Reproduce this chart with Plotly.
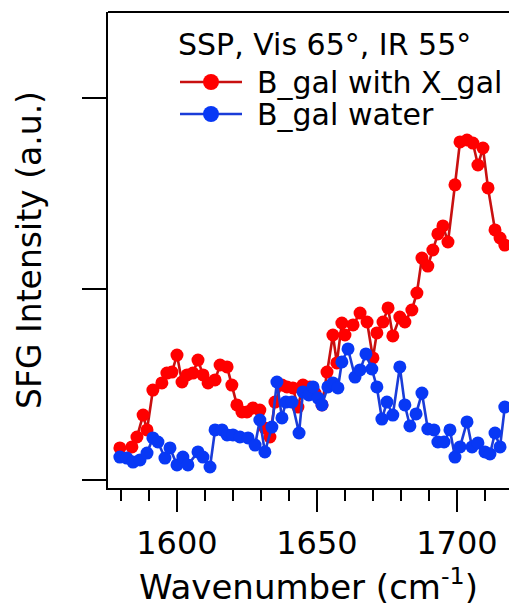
import plotly.graph_objects as go

# Wavenumber (cm^-1) and SFG intensity (a.u.)
red_x = [1579.6, 1583.9, 1585.7, 1587.9, 1589.3, 1591.4, 1594.6, 1596.4, 1598.2, 1600.0,
         1601.8, 1603.6, 1605.7, 1607.5, 1609.3, 1611.1, 1613.6, 1615.4, 1617.9, 1619.6,
         1621.4, 1623.2, 1625.0, 1627.1, 1629.6, 1631.4, 1633.2, 1635.0, 1637.5, 1639.3,
         1641.4, 1643.2, 1645.0, 1647.5, 1649.3, 1651.8, 1653.6, 1655.7, 1657.1, 1658.9,
         1660.0, 1662.9, 1665.4, 1667.9, 1670.0, 1671.4, 1673.6, 1675.4, 1677.1, 1679.6,
         1681.4, 1683.9, 1685.7, 1687.5, 1689.6, 1691.4, 1693.2, 1695.0, 1696.8, 1699.3,
         1701.1, 1703.6, 1705.7, 1707.5, 1709.3, 1711.1, 1713.6, 1715.4, 1717.1]
red_y = [0.168, 0.173, 0.225, 0.340, 0.262, 0.471, 0.508, 0.560, 0.565, 0.654,
         0.513, 0.550, 0.560, 0.628, 0.550, 0.508, 0.524, 0.602, 0.592, 0.497,
         0.393, 0.356, 0.356, 0.377, 0.366, 0.272, 0.225, 0.408, 0.497, 0.487,
         0.482, 0.382, 0.497, 0.487, 0.455, 0.393, 0.565, 0.759, 0.613, 0.822,
         0.759, 0.812, 0.874, 0.827, 0.639, 0.770, 0.827, 0.901, 0.754, 0.853,
         0.827, 0.890, 0.979, 1.162, 1.120, 1.204, 1.288, 1.330, 1.246, 1.545,
         1.770, 1.780, 1.764, 1.649, 1.738, 1.529, 1.309, 1.267, 1.230]

blue_x = [1579.6, 1582.1, 1584.3, 1586.8, 1589.3, 1591.4, 1593.2, 1595.7, 1597.5, 1600.0,
          1602.1, 1603.9, 1607.5, 1609.3, 1611.8, 1613.6, 1616.1, 1617.9, 1620.0, 1622.5,
          1625.4, 1627.9, 1629.6, 1631.4, 1633.9, 1635.7, 1637.5, 1638.9, 1641.1, 1643.6,
          1645.0, 1647.1, 1648.6, 1650.4, 1651.8, 1653.9, 1655.7, 1657.5, 1658.9, 1661.1,
          1663.6, 1665.4, 1667.5, 1669.6, 1671.4, 1673.2, 1675.0, 1677.1, 1679.6, 1681.4,
          1683.2, 1685.4, 1687.5, 1689.6, 1691.8, 1693.2, 1695.4, 1697.5, 1699.3, 1701.1,
          1703.6, 1705.4, 1707.5, 1710.0, 1711.8, 1713.6, 1715.4, 1717.1]
blue_y = [0.120, 0.115, 0.094, 0.105, 0.141, 0.220, 0.199, 0.115, 0.168, 0.079,
          0.120, 0.079, 0.147, 0.120, 0.068, 0.262, 0.262, 0.236, 0.236, 0.225,
          0.220, 0.183, 0.314, 0.147, 0.277, 0.513, 0.325, 0.408, 0.408, 0.246,
          0.461, 0.445, 0.487, 0.429, 0.393, 0.487, 0.508, 0.482, 0.618, 0.686,
          0.539, 0.576, 0.660, 0.581, 0.487, 0.319, 0.408, 0.340, 0.592, 0.393,
          0.283, 0.346, 0.455, 0.267, 0.262, 0.199, 0.199, 0.262, 0.120, 0.173,
          0.304, 0.173, 0.194, 0.147, 0.136, 0.246, 0.173, 0.382]

series_names = ["B_gal with X_gal", "B_gal water"]
legend_title = "SSP, Vis 65°, IR 55°"
x_ticks = [1600, 1650, 1700]
y_ticks = [0, 1, 2]

FONT = "DejaVu Sans, Arial, sans-serif"
RED_M, RED_L = "#ff0000", "#c81010"
BLUE_M, BLUE_L = "#0838f5", "#1a3cd8"

W, H = 509, 607
ML, MR, MT, MB = 108, 0, 12, 119
PW, PH = W - ML - MR, H - MT - MB


def px2paper(px, py):
    return (px - ML) / PW, (H - MB - py) / PH


fig = go.Figure()
fig.add_trace(go.Scatter(
    x=red_x, y=red_y, mode="lines+markers", name=series_names[0],
    line=dict(color=RED_L, width=2.6),
    marker=dict(color=RED_M, size=13, line=dict(width=0)),
    showlegend=False,
))
fig.add_trace(go.Scatter(
    x=blue_x, y=blue_y, mode="lines+markers", name=series_names[1],
    line=dict(color=BLUE_L, width=2.6),
    marker=dict(color=BLUE_M, size=13, line=dict(width=0)),
    showlegend=False,
))

fig.update_layout(
    width=W, height=H,
    margin=dict(l=ML, r=MR, t=MT, b=MB),
    paper_bgcolor="white", plot_bgcolor="white",
    font=dict(family=FONT, color="black"),
    showlegend=False,
    xaxis=dict(
        range=[1575.36, 1718.6],
        showline=True, linecolor="black", linewidth=2,
        ticks="outside", ticklen=22, tickwidth=2, tickcolor="black",
        tickvals=x_ticks, tickfont=dict(size=32, family=FONT),
        ticklabelstandoff=4,
        minor=dict(dtick=10, tick0=1600, ticks="outside", ticklen=11, tickwidth=2, tickcolor="black"),
        showgrid=False, zeroline=False,
        title=dict(text="Wavenumber (cm<sup>-1</sup>)", font=dict(size=34, family=FONT), standoff=6),
    ),
    yaxis=dict(
        range=[-0.0419, 2.450],
        showline=True, linecolor="black", linewidth=2,
        ticks="outside", ticklen=24, tickwidth=2, tickcolor="black",
        tickvals=y_ticks, showticklabels=False,
        showgrid=False, zeroline=False,
        title=dict(text="SFG Intensity (a.u.)", font=dict(size=33, family=FONT), standoff=30),
    ),
)
# top frame line
fig.add_shape(type="line", xref="paper", yref="paper", x0=0, x1=1, y0=1, y1=1,
              line=dict(color="black", width=2))

# legend (title + two entries)
tx, ty = px2paper(176, 45)
fig.add_annotation(x=tx, y=ty, xref="paper", yref="paper", text=legend_title,
                   showarrow=False, xanchor="left", yanchor="middle",
                   font=dict(size=30, family=FONT, color="black"))
for i, (name, mc, lc) in enumerate(zip(series_names, [RED_M, BLUE_M], [RED_L, BLUE_L])):
    py = 82 + i * 32
    x0, yy = px2paper(180, py)
    x1, _ = px2paper(242, py)
    fig.add_shape(type="line", xref="paper", yref="paper", x0=x0, x1=x1, y0=yy, y1=yy,
                  line=dict(color=lc, width=2.6))
    cx0, cy0 = px2paper(211 - 8, py - 8)
    cx1, cy1 = px2paper(211 + 8, py + 8)
    fig.add_shape(type="circle", xref="paper", yref="paper", x0=cx0, x1=cx1, y0=cy1, y1=cy0,
                  fillcolor=mc, line=dict(width=0))
    lx, ly = px2paper(255, py)
    fig.add_annotation(x=lx, y=ly, xref="paper", yref="paper", text=name,
                       showarrow=False, xanchor="left", yanchor="middle",
                       font=dict(size=30, family=FONT, color="black"))

fig.write_html("out.html")
